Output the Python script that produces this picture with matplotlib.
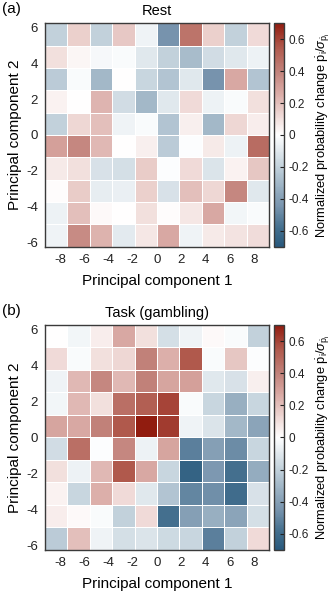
import numpy as np
import matplotlib
matplotlib.use("Agg")
import matplotlib.pyplot as plt
from matplotlib.colors import LinearSegmentedColormap, Normalize

plt.rcParams['font.family'] = ['Liberation Sans', 'DejaVu Sans']
plt.rcParams['mathtext.fontset'] = 'custom'
plt.rcParams['mathtext.rm'] = 'Liberation Sans'
plt.rcParams['mathtext.it'] = 'Liberation Sans:italic'
plt.rcParams['axes.unicode_minus'] = False

x_ticks = [-8, -6, -4, -2, 0, 2, 4, 6, 8]
y_ticks = [-6, -4, -2, 0, 2, 4, 6]
cbar_ticks = [-0.6, -0.4, -0.2, 0, 0.2, 0.4, 0.6]
titles = ["Rest", "Task (gambling)"]
panel_labels = ["(a)", "(b)"]

# rows from top (PC2 = +6) to bottom (PC2 = -6), columns from PC1 = -8 to 8
rest = [
    [-0.20, 0.15, -0.20, 0.17, -0.05, -0.45, 0.45, 0.15, -0.20, 0.12],
    [0.10, 0.03, -0.03, -0.02, -0.10, -0.20, -0.28, -0.15, -0.10, -0.06],
    [-0.22, -0.02, -0.30, 0.00, -0.18, -0.25, -0.10, -0.45, 0.27, -0.25],
    [0.04, 0.00, 0.23, -0.15, -0.30, -0.10, 0.12, -0.06, -0.02, 0.10],
    [-0.20, 0.13, 0.20, -0.05, -0.02, -0.25, 0.05, -0.30, 0.13, 0.06],
    [0.30, 0.38, 0.22, 0.00, 0.05, -0.22, -0.01, 0.07, -0.06, 0.48],
    [0.07, 0.10, -0.13, -0.14, 0.16, -0.01, 0.12, -0.12, 0.04, 0.18],
    [0.01, 0.16, -0.08, -0.07, 0.15, -0.13, 0.20, 0.13, 0.38, -0.10],
    [-0.06, 0.20, 0.02, 0.00, 0.10, 0.01, 0.08, 0.27, -0.04, -0.02],
    [-0.05, 0.37, 0.24, -0.09, 0.08, 0.27, -0.05, 0.07, 0.09, 0.11],
]
task = [
    [0.00, -0.04, 0.06, 0.27, 0.10, -0.14, -0.05, 0.02, -0.02, -0.20],
    [0.12, -0.02, 0.10, 0.13, 0.40, 0.25, 0.55, -0.02, 0.18, -0.01],
    [-0.05, 0.22, 0.38, 0.22, 0.40, 0.28, 0.30, -0.10, -0.13, 0.05],
    [-0.04, 0.22, 0.10, 0.47, 0.53, 0.60, -0.02, -0.18, -0.33, -0.18],
    [0.28, 0.27, 0.40, 0.55, 0.70, 0.62, -0.05, -0.12, -0.30, -0.38],
    [-0.15, 0.47, -0.01, 0.38, -0.06, 0.28, -0.52, -0.40, -0.48, -0.18],
    [0.10, -0.06, 0.22, 0.55, 0.27, -0.18, -0.65, -0.43, -0.58, -0.35],
    [0.04, -0.18, 0.25, 0.12, -0.10, -0.25, -0.50, -0.47, -0.60, -0.13],
    [0.06, 0.02, -0.02, -0.20, 0.12, -0.58, -0.40, -0.33, -0.38, -0.14],
    [-0.22, 0.20, -0.05, -0.14, -0.12, -0.16, -0.18, -0.52, -0.20, 0.12],
]
datasets = [rest, task]

vmin, vmax = -0.7, 0.7
anchors = [
    (-0.70, (0.16, 0.35, 0.49)),
    (-0.58, (0.27, 0.44, 0.56)),
    (-0.45, (0.47, 0.58, 0.68)),
    (-0.33, (0.60, 0.69, 0.76)),
    (-0.20, (0.76, 0.82, 0.86)),
    (-0.10, (0.88, 0.91, 0.93)),
    (0.00, (1.00, 1.00, 1.00)),
    (0.10, (0.95, 0.88, 0.87)),
    (0.27, (0.85, 0.66, 0.64)),
    (0.40, (0.76, 0.51, 0.48)),
    (0.55, (0.69, 0.35, 0.30)),
    (0.70, (0.57, 0.11, 0.06)),
]
cmap = LinearSegmentedColormap.from_list(
    "muted_rdbu", [((v - vmin) / (vmax - vmin), c) for v, c in anchors])
norm = Normalize(vmin=vmin, vmax=vmax)

fig = plt.figure(figsize=(3.33, 5.96), dpi=100)

xe = np.linspace(-9.25, 9.25, 11)
ye = np.linspace(6.25, -6.25, 11)

ax_rects = [(0.135, 0.586, 0.673, 0.375), (0.135, 0.0772, 0.673, 0.3775)]
frame_col = '#3a3a3a'
for i, (data, rect) in enumerate(zip(datasets, ax_rects)):
    ax = fig.add_axes(rect)
    Z = np.array(data)
    ax.pcolormesh(xe, ye, Z, cmap=cmap, norm=norm, edgecolors='white', linewidth=0.45)
    ax.set_xlim(-9.25, 9.25)
    ax.set_ylim(-6.25, 6.25)
    ax.set_xticks(x_ticks)
    ax.set_yticks(y_ticks)
    ax.tick_params(length=0, labelsize=9.5, pad=5, colors='#222222')
    for s in ax.spines.values():
        s.set_color(frame_col)
        s.set_linewidth(1.0)
    ax.set_xlabel("Principal component 1", fontsize=11, labelpad=6)
    ax.set_ylabel("Principal component 2", fontsize=11, labelpad=3)
    ax.set_title(titles[i], fontsize=10.5, pad=6)
    fig.text(0.005, rect[1] + rect[3] + 0.012, panel_labels[i], fontsize=11, va='bottom', ha='left')

    cax = fig.add_axes((0.823, rect[1], 0.030, rect[3]))
    sm = matplotlib.cm.ScalarMappable(norm=norm, cmap=cmap)
    cb = fig.colorbar(sm, cax=cax, ticks=cbar_ticks)
    cb.set_ticklabels(['-0.6', '-0.4', '-0.2', '0', '0.2', '0.4', '0.6'])
    cb.outline.set_edgecolor(frame_col)
    cb.outline.set_linewidth(1.0)
    cax.tick_params(direction='in', length=3, width=0.8, labelsize=8.5, pad=3, colors='#222222')
    cb.set_label(r"Normalized probability change $\dot{\mathrm{p}}_{\mathrm{i}}/\sigma_{\dot{\mathrm{p}}_{\mathrm{i}}}$",
                 fontsize=9.3, labelpad=4)

fig.savefig("out.png", dpi=100)
